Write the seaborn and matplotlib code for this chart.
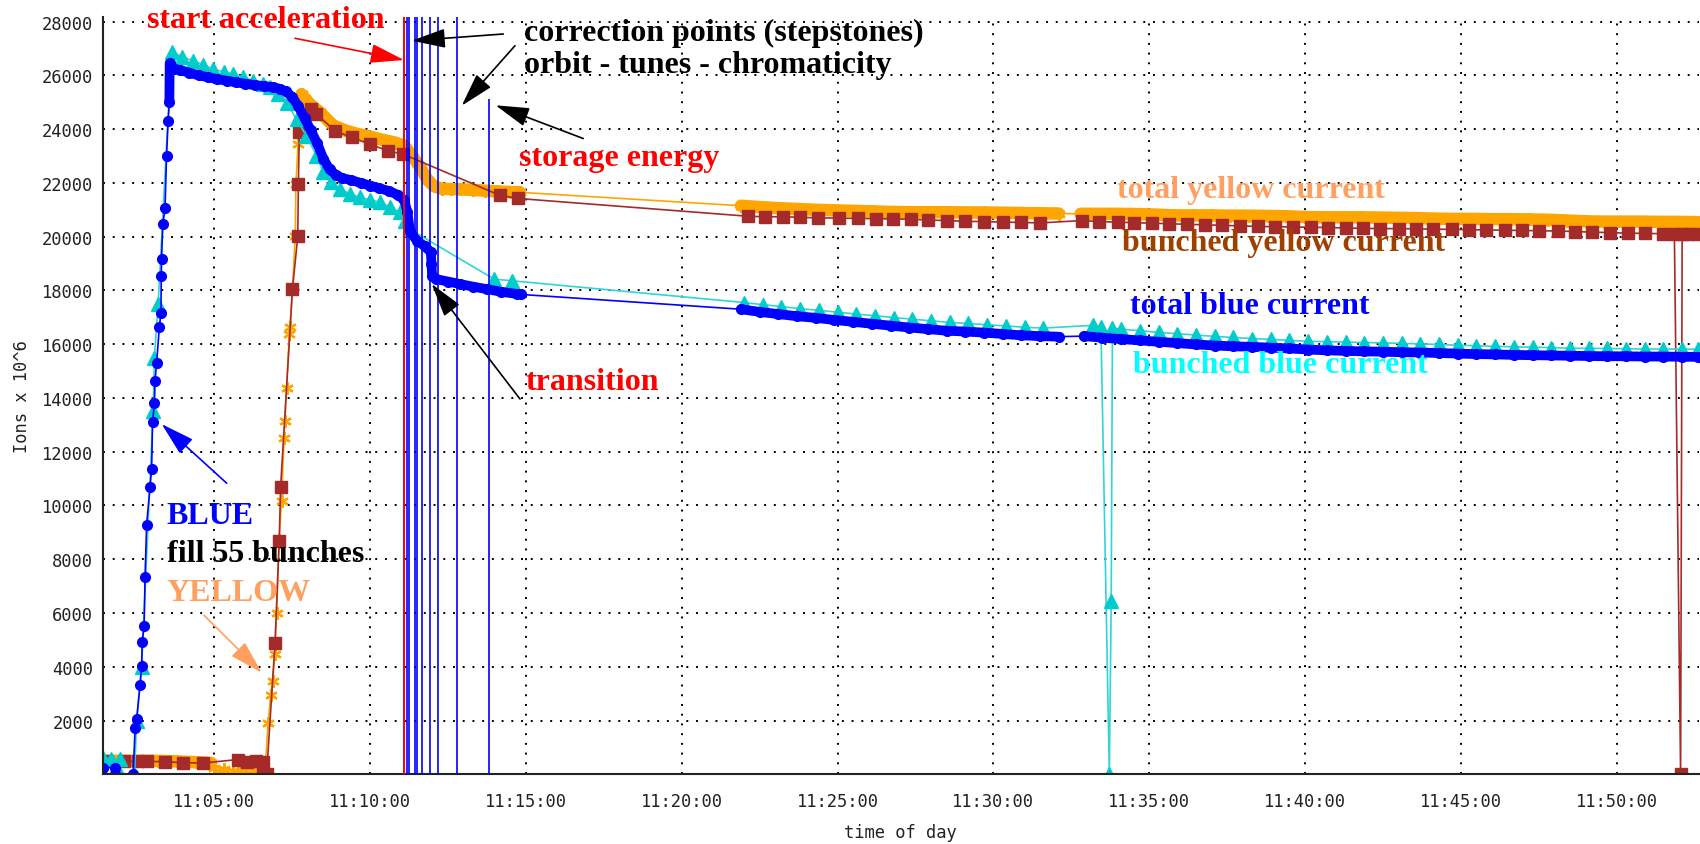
import matplotlib
matplotlib.use("Agg")
import matplotlib.pyplot as plt
from matplotlib.ticker import FixedLocator, FuncFormatter
import pandas as pd
import seaborn as sns

# time is minutes after 11:00:00, intensity is ions x 10^6

# total blue current
tb_t = [1.42, 1.80, 1.82, 2.40, 2.46, 2.51, 2.62, 2.67, 2.69, 2.75, 2.78, 2.83, 2.94, 2.99,
        3.02, 3.08, 3.10, 3.15, 3.24, 3.29, 3.30, 3.31, 3.35, 3.42, 3.47, 3.52, 3.56, 3.57, 3.70,
        3.90, 4.20, 4.50, 4.80, 5.10, 5.40, 5.70, 6.00, 6.30, 6.60, 6.90, 7.10, 7.30, 7.50, 7.70,
        7.90, 8.10, 8.30, 8.50, 8.70, 8.90, 9.10, 9.40, 9.70, 10.00, 10.30, 10.60, 10.90, 11.10,
        11.20, 11.28, 11.50, 11.75, 11.95, 11.97, 11.99, 12.13, 12.50, 12.88, 13.30, 13.74, 14.20,
        14.70, 14.85,
        21.9, 22.5, 23.1, 23.7, 24.3, 24.9, 25.5, 26.1, 26.7, 27.3, 27.9, 28.5, 29.1, 29.7,
        30.3, 30.9, 31.5, 32.1,
        32.9, 33.5, 34.1, 34.7, 35.3, 35.9, 36.5, 37.1, 37.7, 38.3, 38.9, 39.5, 40.1, 40.7,
        41.3, 41.9, 42.5, 43.1, 43.7, 44.3, 44.9, 45.5, 46.1, 46.7, 47.3, 47.9, 48.5, 49.1,
        49.7, 50.3, 50.9, 51.5, 52.1, 52.6]
tb_v = [250, 250, 0, 0, 1710, 2040, 3330, 4040, 4940, 5500, 7340, 9280, 10700, 11340,
        13090, 13800, 14640, 15290, 16650, 17160, 18550, 19170, 20470, 21050, 23010, 24310, 25000, 26450, 26250,
        26200, 26100, 26000, 25930, 25860, 25800, 25740, 25690, 25640, 25600, 25560, 25500, 25400, 25200, 24850,
        24400, 23950, 23480, 22900, 22500, 22300, 22180, 22100, 22000, 21900, 21800, 21700, 21550, 21350,
        20900, 20200, 19850, 19650, 19420, 19000, 18550, 18420, 18330, 18240, 18140, 18050, 17950,
        17870, 17850,
        17300, 17200, 17120, 17040, 16980, 16900, 16830, 16760, 16690, 16620, 16560, 16500, 16470, 16430,
        16380, 16330, 16300, 16280,
        16300, 16240, 16190, 16140, 16090, 16040, 15990, 15950, 15920, 15900, 15870, 15840, 15800, 15770,
        15750, 15730, 15720, 15700, 15690, 15670, 15650, 15630, 15620, 15600, 15590, 15580, 15570, 15560,
        15550, 15550, 15540, 15540, 15530, 15530]

# bunched blue current
bb_t = [1.42, 1.70, 1.98, 1.99, 2.44, 2.51, 2.67, 3.04, 3.08, 3.20, 3.63, 3.95, 4.33, 4.65, 4.97,
        5.30, 5.61, 5.93, 6.25, 6.55, 6.79, 7.05, 7.32, 7.64, 7.96, 8.28, 8.50, 8.75, 9.03, 9.35,
        9.67, 10.00, 10.31, 10.65, 10.95, 11.12, 11.28, 13.98, 14.54,
        22.0, 22.6, 23.2, 23.8, 24.4, 25.0, 25.6, 26.2, 26.8, 27.4, 28.0, 28.6, 29.2, 29.8,
        30.4, 31.0, 31.6,
        33.20, 33.45, 33.72, 33.78, 33.82,
        34.1, 34.7, 35.3, 35.9, 36.5, 37.1, 37.7, 38.3, 38.9, 39.5, 40.1, 40.7, 41.3, 41.9,
        42.5, 43.1, 43.7, 44.3, 44.9, 45.5, 46.1, 46.7, 47.3, 47.9, 48.5, 49.1, 49.7, 50.3,
        50.9, 51.5, 52.1, 52.6]
bb_v = [600, 580, 560, 0, 0, 2000, 4000, 13500, 15500, 17500, 26880, 26700, 26540, 26400, 26230,
        26130, 26050, 25930, 25800, 25680, 25550, 25300, 24990, 24370, 23750, 23010, 22390, 22050, 21770, 21600,
        21460, 21370, 21280, 21100, 20900, 20590, 20270, 18420, 18360,
        17550, 17470, 17400, 17320, 17260, 17190, 17120, 17060, 16990, 16930, 16870, 16810, 16770, 16720,
        16680, 16630, 16600,
        16700, 16650, 0, 6450, 16600,
        16560, 16500, 16440, 16390, 16340, 16290, 16250, 16210, 16180, 16140, 16110, 16090, 16080, 16060,
        16050, 16030, 16010, 15990, 15960, 15940, 15920, 15900, 15890, 15870, 15850, 15845, 15840, 15830,
        15820, 15820, 15820, 15810]

# total yellow current
ty_t = [1.42, 2.00, 2.60, 3.20, 3.80, 4.40, 4.90, 5.00, 5.15, 5.30, 5.45, 5.60, 5.75, 5.90, 6.05,
        6.20, 6.35, 6.50, 6.62, 6.73, 6.81, 6.87, 6.95, 7.00, 7.08, 7.16, 7.24, 7.27, 7.32, 7.41,
        7.43, 7.51, 7.60, 7.62, 7.69, 7.80, 7.90, 8.10, 8.40, 8.80, 9.20, 9.60, 10.00, 10.40, 10.80,
        11.10, 11.35, 11.60, 11.85, 12.05, 12.30, 12.60, 12.90, 13.30, 13.70, 14.10, 14.50, 14.80,
        21.9, 22.5, 23.1, 23.7, 24.3, 24.9, 25.5, 26.1, 26.7, 27.3, 27.9, 28.5, 29.1, 29.7,
        30.3, 30.9, 31.5, 32.1,
        32.8, 33.4, 34.0, 34.6, 35.2, 35.8, 36.4, 37.0, 37.6, 38.2, 38.8, 39.4, 40.0, 40.6,
        41.2, 41.8, 42.4, 43.0, 43.6, 44.2, 44.8, 45.4, 46.0, 46.6, 47.2, 47.8, 48.4, 49.0,
        49.6, 50.2, 50.8, 51.4, 52.0, 52.6]
ty_v = [500, 500, 500, 500, 480, 450, 420, 250, 50, 200, 0, 120, 30, 220, 0,
        150, 40, 180, 0, 1900, 2940, 3460, 4490, 6000, 8700, 10180, 12510, 13150, 14380, 16380,
        16650, 18050, 20030, 21960, 23440, 25300, 25150, 24900, 24620, 24150, 23950, 23820, 23720, 23600, 23500,
        23380, 23000, 22600, 22100, 21880, 21780, 21770, 21760, 21740, 21710, 21680, 21660, 21650,
        21150, 21100, 21060, 21030, 21000, 20980, 20960, 20940, 20920, 20910, 20910, 20910, 20900, 20900,
        20890, 20880, 20870, 20860,
        20850, 20850, 20850, 20840, 20820, 20790, 20790, 20790, 20780, 20780, 20770, 20760, 20730, 20720,
        20720, 20720, 20710, 20700, 20690, 20670, 20660, 20660, 20650, 20650, 20640, 20630, 20600, 20570,
        20560, 20560, 20560, 20550, 20550, 20540]

# bunched yellow current
by_t = [1.55, 2.10, 2.55, 2.83, 3.42, 4.00, 4.65, 5.77, 6.04, 6.34, 6.55, 6.57, 6.68, 6.95, 7.085,
        7.13, 7.51, 7.68, 7.70, 7.73, 8.12, 8.28, 8.87, 9.41, 9.99, 10.58, 11.06, 14.16, 14.75,
        22.12, 22.68, 23.25, 23.81, 24.37, 25.05, 25.67, 26.23, 26.79, 27.35, 27.90, 28.50, 29.10,
        29.70, 30.30, 30.90, 31.50,
        32.85, 33.40, 34.00, 34.50, 35.10, 35.65, 36.20, 36.80, 37.35, 37.90, 38.50, 39.05, 39.60,
        40.20, 40.75, 41.30, 41.85, 42.40, 43.00, 43.55, 44.10, 44.70, 45.25, 45.80, 46.40, 46.95,
        47.50, 48.10, 48.65, 49.20, 49.80, 50.35, 50.90, 51.50, 51.85, 52.05,
        52.10, 52.30, 52.60]
by_v = [480, 480, 480, 480, 470, 430, 420, 550, 460, 480, 450, 0, 0, 4880, 8690,
        10700, 18050, 20010, 21960, 23880, 24750, 24560, 23940, 23690, 23440, 23190, 23070, 21540, 21420,
        20760, 20740, 20740, 20720, 20700, 20690, 20680, 20670, 20660, 20650, 20620, 20600, 20570,
        20560, 20540, 20530, 20510,
        20600, 20560, 20540, 20520, 20500, 20480, 20460, 20440, 20420, 20400, 20380, 20370, 20360,
        20350, 20340, 20320, 20310, 20300, 20300, 20290, 20280, 20270, 20260, 20250, 20240, 20230,
        20220, 20210, 20190, 20170, 20150, 20130, 20120, 20110, 20100, 0,
        20100, 20100, 20090]

# machine events
accel_t = 11.094
corr_t = [11.171, 11.254, 11.437, 11.491, 11.652, 11.918, 12.165, 12.774]
storage_t = 13.82
storage_top = 25120

W, H = 1700, 845


def fxy(x, y):
    return (x / W, 1 - y / H)


sns.set_style("white")
plt.rcParams["font.family"] = ["DejaVu Sans Mono", "DejaVu Sans"]

fig = plt.figure(figsize=(17, 8.45), dpi=100)
ax = fig.add_axes([102.7 / W, 1 - 775.3 / H, (1699 - 102.7) / W, (775.3 - 18.3) / H])


def draw_series(t, v, color, marker, ms, bands=(), band_lw=0, mew=1.0, zorder=2, line_color=None):
    df = pd.DataFrame({"t": t, "v": v})
    for a, b in bands:
        seg = df[(df.t >= a) & (df.t <= b)]
        sns.lineplot(data=seg, x="t", y="v", color=color, linewidth=band_lw, sort=False,
                     estimator=None, ax=ax, zorder=zorder)
    sns.lineplot(data=df, x="t", y="v", color=line_color or color, linewidth=1.2,
                 marker=marker, markersize=ms, markerfacecolor=color, markeredgecolor=color,
                 markeredgewidth=mew, sort=False, estimator=None, ax=ax, zorder=zorder)


draw_series(ty_t, ty_v, "#FFA500", (6, 2, 0), 9, mew=1.6,
            bands=[(1.4, 4.95), (7.8, 14.85), (21.85, 32.15), (32.75, 52.7)], band_lw=9, zorder=2.0)
draw_series(by_t, by_v, "#A52A2A", "s", 8.5, zorder=2.1)
draw_series(bb_t, bb_v, "#00CCCC", "^", 9.5, zorder=2.2, line_color="#30D5D5")
draw_series(tb_t, tb_v, "#0000FF", "o", 7,
            bands=[(3.55, 14.9), (21.85, 32.15), (32.85, 52.7)], band_lw=7, zorder=2.3)

for t in corr_t:
    ax.axvline(t, color="#0000FF", lw=1.2, zorder=3)
ax.vlines(storage_t, 0, storage_top, color="#0000FF", lw=1.2, zorder=3)
ax.axvline(accel_t, color="#FF0000", lw=1.4, zorder=3.1)

ax.set_xlim(1.421, 52.64)
ax.set_ylim(0, 28160)
ax.set_xticks(range(5, 51, 5))
ax.xaxis.set_major_formatter(FuncFormatter(lambda m, p: f"11:{int(round(m)):02d}:00"))
ax.set_yticks(range(2000, 28001, 2000))
ax.yaxis.set_minor_locator(FixedLocator(range(1000, 28000, 2000)))
ax.grid(True, which="major", color="black", linestyle=(0, (1, 4)), linewidth=1.4)
ax.set_axisbelow(True)
for s in ["top", "right"]:
    ax.spines[s].set_visible(False)
for s in ["left", "bottom"]:
    ax.spines[s].set_linewidth(1.5)
    ax.spines[s].set_color("#222222")
ax.tick_params(axis="y", which="both", direction="inout", length=6.5, width=1.5,
               labelsize=12.3, pad=3.5, colors="#222222")
ax.tick_params(axis="x", direction="inout", length=6, width=1.2, labelsize=12.3, pad=10,
               colors="#222222")
ax.set_xlabel("")
ax.set_ylabel("")

fig.text(*fxy(900, 833), "time of day", ha="center", va="center", fontsize=12.3, color="#222222")
fig.text(*fxy(21.7, 397), "Ions x 10^6", ha="center", va="center", rotation=90,
         fontsize=12.3, color="#222222")

notes = [
    ("start acceleration", 146.7, 28.3, "#FF0000"),
    ("correction points (stepstones)", 523.6, 41.5, "black"),
    ("orbit - tunes - chromaticity", 523.6, 73, "black"),
    ("storage energy", 519.4, 166, "#FF0000"),
    ("transition", 526, 390, "#FF0000"),
    ("total yellow current", 1117.3, 198.2, "#FFA060"),
    ("bunched yellow current", 1122.4, 251.3, "#A04000"),
    ("total blue current", 1130, 314.5, "#0000FF"),
    ("bunched blue current", 1132.6, 372.6, "#00FFFF"),
    ("BLUE", 166.7, 524.2, "#0000FF"),
    ("fill 55 bunches", 166.7, 562.4, "black"),
    ("YELLOW", 166.7, 600.7, "#FFA060"),
]
for txt, x, y, c in notes:
    fig.text(*fxy(x, y), txt, ha="left", va="baseline", color=c, fontsize=23,
             family="Liberation Serif", weight="bold", zorder=10)

arrows = [
    ((295, 39.3), (404, 61), "#FF0000"),
    ((503.3, 35), (411.7, 41.7), "black"),
    ((515, 46.7), (461.7, 106.7), "black"),
    ((583.2, 139.5), (495.6, 106.3), "black"),
    ((520, 400), (431.7, 285), "black"),
    ((226.7, 484.2), (161.7, 425.1), "#0000FF"),
    ((204, 616.3), (261.7, 673.7), "#FFA060"),
]
for tail, tip, c in arrows:
    ax.annotate("", xy=fxy(*tip), xytext=fxy(*tail), xycoords="figure fraction",
                textcoords="figure fraction", annotation_clip=False, zorder=10,
                arrowprops=dict(arrowstyle="-|>,head_length=1.05,head_width=0.3",
                                mutation_scale=20, color=c, lw=1.2, shrinkA=0, shrinkB=0))

fig.savefig("out.png", dpi=100, facecolor="white")
